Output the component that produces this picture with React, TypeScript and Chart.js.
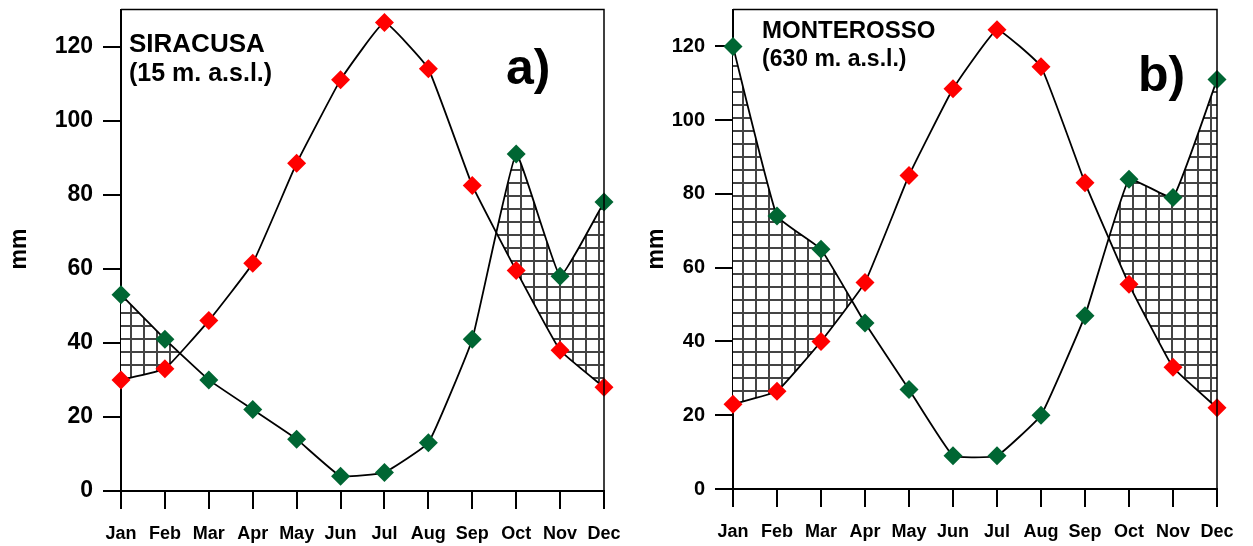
import React, { useEffect, useRef } from 'react';
import { Chart, registerables } from 'chart.js';

Chart.register(...registerables);

const MONTHS = ['Jan', 'Feb', 'Mar', 'Apr', 'May', 'Jun', 'Jul', 'Aug', 'Sep', 'Oct', 'Nov', 'Dec'];
const Y_TICKS = [0, 20, 40, 60, 80, 100, 120];

const SIRACUSA_RAIN = [53, 41, 30, 22, 14, 4, 5, 13, 41, 91, 58, 78];
const SIRACUSA_ETP = [30, 33, 46, 61.5, 88.5, 111, 126.5, 114, 82.5, 59.5, 38, 28];
const MONTEROSSO_RAIN = [120, 74, 65, 45, 27, 9, 9, 20, 47, 84, 79, 111];
const MONTEROSSO_ETP = [23, 26.5, 40, 56, 85, 108.5, 124.5, 114.5, 83, 55.5, 33, 22];

const FONT = '"Liberation Sans", Arial, Helvetica, sans-serif';
const GREEN = '#006633';
const RED = '#ff0000';

type PanelCfg = {
  left: number;
  width: number;
  height: number;
  yWidth: number;
  padTop: number;
  padRight: number;
  xHeight: number;
  yTickFont: number;
  rain: number[];
  etp: number[];
  title1: string;
  title2: string;
  titleX: number;
  titleB1: number;
  titleB2: number;
  titleFont1: number;
  titleFont2: number;
  letter: string;
  letterX: number;
  letterB: number;
  mmX: number;
  mmY: number;
};

const PANELS: PanelCfg[] = [
  {
    left: 0, width: 640, height: 546, yWidth: 121, padTop: 7, padRight: 36, xHeight: 55,
    yTickFont: 23, rain: SIRACUSA_RAIN, etp: SIRACUSA_ETP,
    title1: 'SIRACUSA', title2: '(15 m. a.s.l.)', titleX: 129, titleB1: 52, titleB2: 81,
    titleFont1: 26, titleFont2: 25, letter: 'a)', letterX: 506, letterB: 84, mmX: 26, mmY: 249,
  },
  {
    left: 625, width: 628, height: 546, yWidth: 108, padTop: 4, padRight: 36, xHeight: 57,
    yTickFont: 20, rain: MONTEROSSO_RAIN, etp: MONTEROSSO_ETP,
    title1: 'MONTEROSSO', title2: '(630 m. a.s.l.)', titleX: 137, titleB1: 38, titleB2: 66,
    titleFont1: 24, titleFont2: 23, letter: 'b)', letterX: 513, letterB: 91, mmX: 38, mmY: 249,
  },
];

function makeHatch(): CanvasPattern | string {
  const c = document.createElement('canvas');
  const s = 13;
  c.width = s;
  c.height = s;
  const ctx = c.getContext('2d');
  if (!ctx) return 'rgba(0,0,0,0.2)';
  ctx.fillStyle = '#ffffff';
  ctx.fillRect(0, 0, s, s);
  ctx.fillStyle = '#444444';
  ctx.fillRect(0, 0, 2, s);
  ctx.fillRect(0, 0, s, 2);
  const p = ctx.createPattern(c, 'repeat');
  return p || 'rgba(0,0,0,0.2)';
}

function Panel({ cfg }: { cfg: PanelCfg }) {
  const ref = useRef<HTMLCanvasElement | null>(null);
  useEffect(() => {
    const canvas = ref.current;
    if (!canvas) return;
    const hatch = makeHatch();
    const decor = {
      id: 'decor',
      afterDraw(chart: any) {
        const ctx = chart.ctx;
        const a = chart.chartArea;
        ctx.save();
        ctx.strokeStyle = '#000';
        ctx.lineWidth = 1.5;
        ctx.beginPath();
        ctx.moveTo(a.left, a.top);
        ctx.lineTo(a.right, a.top);
        ctx.lineTo(a.right, a.bottom);
        ctx.stroke();
        ctx.fillStyle = '#000';
        ctx.textAlign = 'left';
        ctx.textBaseline = 'alphabetic';
        ctx.font = `bold ${cfg.titleFont1}px ${FONT}`;
        ctx.fillText(cfg.title1, cfg.titleX, cfg.titleB1);
        ctx.font = `bold ${cfg.titleFont2}px ${FONT}`;
        ctx.fillText(cfg.title2, cfg.titleX, cfg.titleB2);
        ctx.font = `bold 50px ${FONT}`;
        ctx.fillText(cfg.letter, cfg.letterX, cfg.letterB);
        ctx.translate(cfg.mmX, cfg.mmY);
        ctx.rotate(-Math.PI / 2);
        ctx.textAlign = 'center';
        ctx.font = `bold 23px ${FONT}`;
        ctx.fillText('mm', 0, 0);
        ctx.restore();
      },
    };
    const chart = new Chart(canvas, {
      type: 'line',
      data: {
        labels: MONTHS,
        datasets: [
          {
            data: cfg.rain,
            borderColor: '#000',
            borderWidth: 1.8,
            tension: 0.1,
            pointStyle: 'rectRot',
            pointRadius: 9.5,
            pointBackgroundColor: GREEN,
            pointBorderWidth: 0,
            clip: false as any,
            fill: { target: 1, above: hatch as any, below: 'rgba(0,0,0,0)' },
          },
          {
            data: cfg.etp,
            borderColor: '#000',
            borderWidth: 1.8,
            tension: 0.1,
            pointStyle: 'rectRot',
            pointRadius: 9.5,
            pointBackgroundColor: RED,
            pointBorderWidth: 0,
            clip: false as any,
            fill: false,
          },
        ],
      },
      options: {
        animation: false,
        responsive: false,
        devicePixelRatio: 1,
        layout: { padding: { top: cfg.padTop, right: cfg.padRight, left: 0, bottom: 0 } },
        plugins: {
          legend: { display: false },
          tooltip: { enabled: false },
          filler: { drawTime: 'beforeDatasetsDraw' },
        },
        scales: {
          x: {
            type: 'category',
            offset: false,
            afterFit: (s: any) => {
              s.height = cfg.xHeight;
              s.paddingLeft = 0;
              s.paddingRight = 0;
              s.paddingTop = 0;
              s.paddingBottom = 0;
            },
            grid: { display: true, drawOnChartArea: false, drawTicks: true, tickLength: 18, color: '#000', lineWidth: 2, offset: false },
            border: { display: true, color: '#000', width: 2 },
            ticks: { color: '#000', font: { family: FONT, size: 18, weight: 'bold' }, padding: 14, autoSkip: false, maxRotation: 0 },
          },
          y: {
            type: 'linear',
            min: 0,
            max: 130,
            afterFit: (s: any) => {
              s.width = cfg.yWidth;
              s.paddingTop = 0;
              s.paddingBottom = 0;
              s.paddingLeft = 0;
              s.paddingRight = 0;
            },
            afterBuildTicks: (s: any) => { s.ticks = Y_TICKS.map((v) => ({ value: v })); },
            grid: { display: true, drawOnChartArea: false, drawTicks: true, tickLength: 18, color: '#000', lineWidth: 2 },
            border: { display: true, color: '#000', width: 2 },
            ticks: { color: '#000', stepSize: 20, includeBounds: false, font: { family: FONT, size: cfg.yTickFont, weight: 'bold' }, padding: 10 },
          },
        },
      } as any,
      plugins: [decor],
    });
    return () => chart.destroy();
  }, [cfg]);
  return (
    <canvas
      ref={ref}
      width={cfg.width}
      height={cfg.height}
      style={{ position: 'absolute', left: cfg.left, top: 0, width: cfg.width, height: cfg.height }}
    />
  );
}

export default function App() {
  return (
    <div style={{ position: 'fixed', left: 0, top: 0, width: 1253, height: 546, background: '#fff' }}>
      {PANELS.map((p, i) => (
        <Panel key={i} cfg={p} />
      ))}
    </div>
  );
}
